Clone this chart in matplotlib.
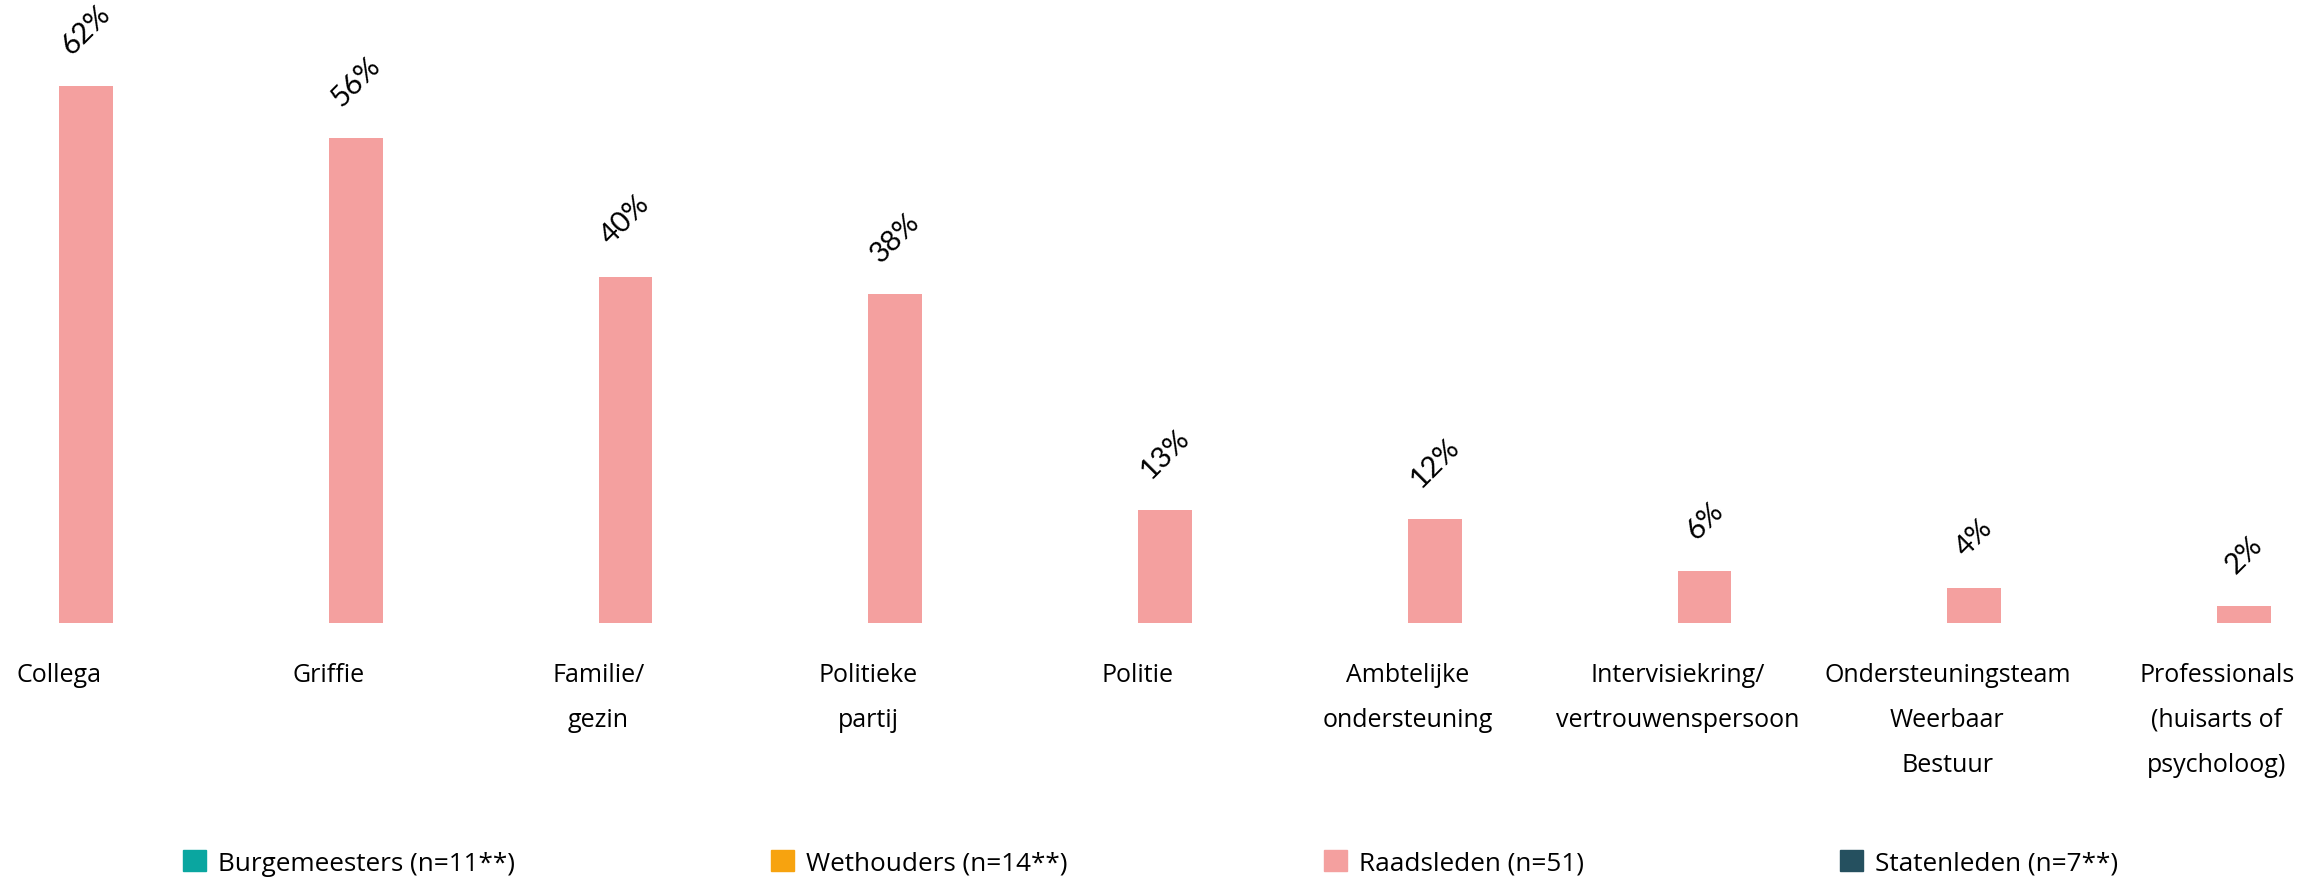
import numpy as np
import matplotlib
matplotlib.use("Agg")
import matplotlib.pyplot as plt
from matplotlib.patches import Rectangle

categories = ["Collega", "Griffie", "Familie/\ngezin", "Politieke\npartij", "Politie",
              "Ambtelijke\nondersteuning", "Intervisiekring/\nvertrouwenspersoon",
              "Ondersteuningsteam\nWeerbaar\nBestuur", "Professionals\n(huisarts of\npsycholoog)"]
series_names = ["Burgemeesters (n=11**)", "Wethouders (n=14**)", "Raadsleden (n=51)", "Statenleden (n=7**)"]
burgemeesters = [np.nan] * 9
wethouders = [np.nan] * 9
raadsleden = [62, 56, 40, 38, 13, 12, 6, 4, 2]
statenleden = [np.nan] * 9
colors = ["#0AA6A0", "#F7A30F", "#F4A09F", "#25505F"]

fig = plt.figure(figsize=(23.01, 8.78), dpi=100)
ax = fig.add_axes([0, 254 / 878, 1, 624 / 878])

x = np.arange(len(categories))
width = 0.2
all_series = [burgemeesters, wethouders, raadsleden, statenleden]
for k, (vals, col) in enumerate(zip(all_series, colors)):
    offs = (k - 1.5) * width
    bars = ax.bar(x + offs, vals, width=width, color=col, label=series_names[k])
    for xi, v in zip(x + offs, vals):
        if not np.isnan(v):
            ax.annotate(f"{v:g}%", (xi, v), xytext=(0, 20), textcoords="offset points",
                        ha="center", va="bottom", rotation=45, fontsize=21,
                        family="Lato", color="black")

ax.set_xlim(-59 / 269.75, (2301 - 59) / 269.75)
ax.set_ylim(0, 72.06)
ax.set_xticks(x)
ax.set_xticklabels(categories, fontsize=18, family="Open Sans", linespacing=2.05)
ax.tick_params(axis="x", length=0, pad=28)
ax.set_yticks([])
for s in ax.spines.values():
    s.set_visible(False)

handles = [Rectangle((0, 0), 1, 1, color=c) for c in colors]
fig.legend(handles, series_names, loc="center", bbox_to_anchor=(0.5, 14 / 878), ncol=4,
           frameon=False, prop={"family": "Open Sans", "size": 18.8},
           handlelength=0.9, handleheight=0.85, handletextpad=0.45, columnspacing=9.8,
           borderpad=0, borderaxespad=0)

fig.savefig("out.png", dpi=100)
